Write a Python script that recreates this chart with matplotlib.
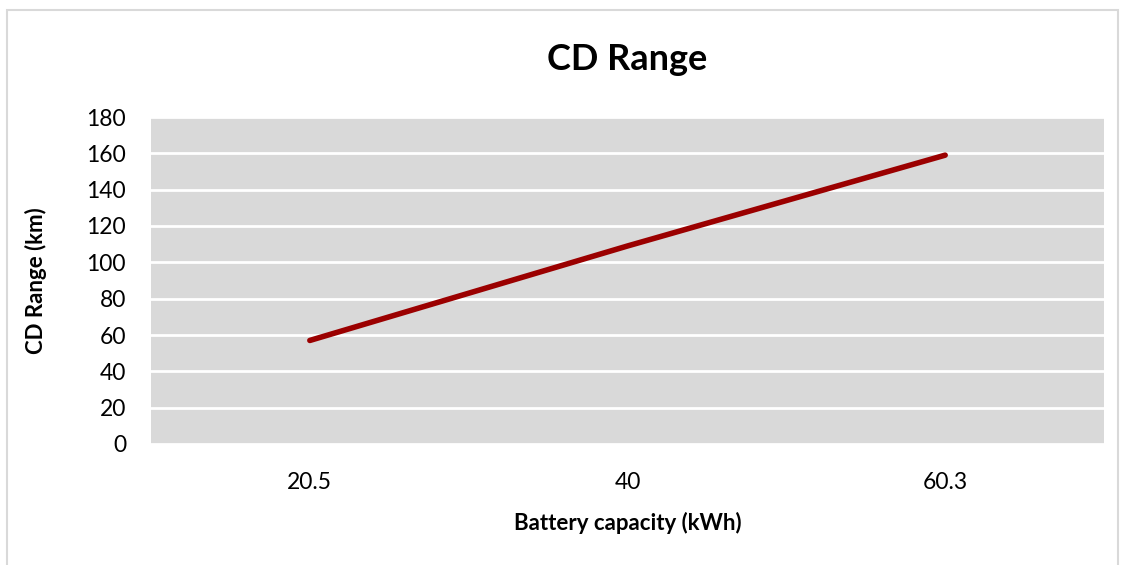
import matplotlib.pyplot as plt
from matplotlib.patches import Rectangle

categories = ['20.5', '40', '60.3']
cd_range = [57, 109, 159]

plt.rcParams['font.family'] = ['Lato', 'DejaVu Sans']

W, H = 1126, 565
fig = plt.figure(figsize=(W / 100, H / 100), dpi=100)

# outer chart frame
fig.patches.append(Rectangle((7 / W, -0.05), (1118 - 7) / W, (H - 10) / H + 0.05,
                             transform=fig.transFigure, fill=False,
                             edgecolor='#d9d9d9', linewidth=1.5))

ax = fig.add_axes([151 / W, (H - 444) / H, (1104 - 151) / W, (444 - 117) / H])
ax.set_facecolor('#d9d9d9')

x = range(len(categories))
ax.plot(x, cd_range, color='#9b0000', linewidth=4, solid_capstyle='round')

ax.set_xlim(-0.5, len(categories) - 0.5)
ax.set_ylim(0, 180)
ax.set_yticks(range(0, 181, 20))
ax.set_xticks(list(x))
ax.set_xticklabels(categories)
ax.grid(axis='y', color='white', linewidth=2)
ax.set_axisbelow(True)
for s in ax.spines.values():
    s.set_visible(False)
ax.tick_params(length=0, labelsize=16.5, colors='black')
ax.tick_params(axis='x', pad=20)
ax.tick_params(axis='y', pad=18)

ax.set_title('CD Range', fontsize=26, fontweight='bold', pad=34)
ax.set_xlabel('Battery capacity (kWh)', fontsize=16, fontweight='bold', labelpad=14)
ax.set_ylabel('CD Range (km)', fontsize=16, fontweight='bold', labelpad=28)

fig.savefig('out.png', dpi=100)
